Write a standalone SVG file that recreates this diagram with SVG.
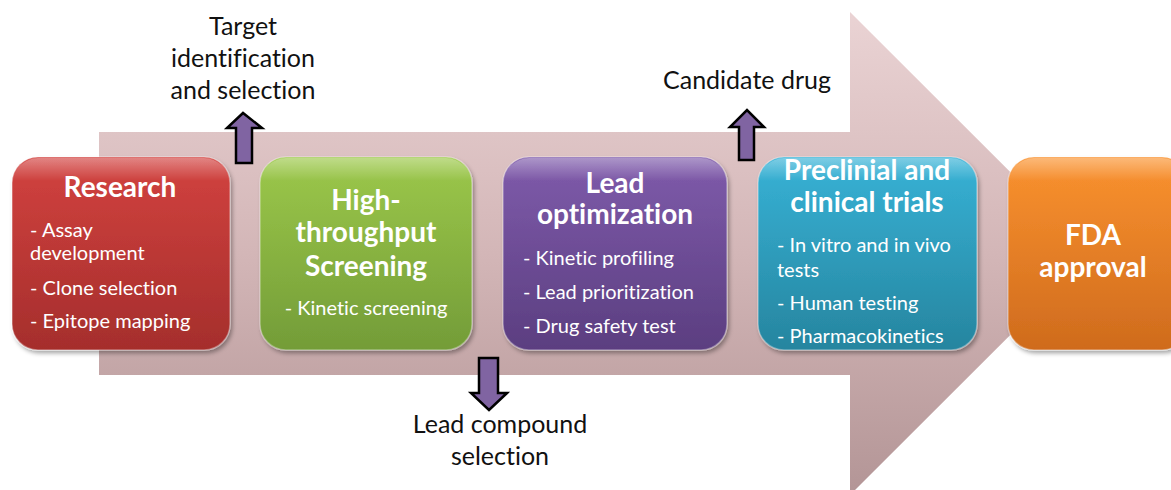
<svg xmlns="http://www.w3.org/2000/svg" width="1171" height="490" viewBox="0 0 1171 490">
<defs>
<linearGradient id="gArrow" x1="0" y1="0" x2="0" y2="1"><stop offset="0" stop-color="#ead3d4"/><stop offset="0.5" stop-color="#d3b6b7"/><stop offset="1" stop-color="#b39596"/></linearGradient>
<linearGradient id="gRed" x1="0" y1="0" x2="0" y2="1"><stop offset="0" stop-color="#d2423f"/><stop offset="1" stop-color="#a52e2c"/></linearGradient>
<linearGradient id="gGreen" x1="0" y1="0" x2="0" y2="1"><stop offset="0" stop-color="#9cc84a"/><stop offset="1" stop-color="#739c38"/></linearGradient>
<linearGradient id="gPurple" x1="0" y1="0" x2="0" y2="1"><stop offset="0" stop-color="#7f5bab"/><stop offset="1" stop-color="#5b3e80"/></linearGradient>
<linearGradient id="gBlue" x1="0" y1="0" x2="0" y2="1"><stop offset="0" stop-color="#37b2d6"/><stop offset="1" stop-color="#26859f"/></linearGradient>
<linearGradient id="gOrange" x1="0" y1="0" x2="0" y2="1"><stop offset="0" stop-color="#fa922f"/><stop offset="1" stop-color="#cf6b1d"/></linearGradient>
<linearGradient id="gGloss" x1="0" y1="0" x2="0" y2="1"><stop offset="0" stop-color="#fff" stop-opacity="0.35"/><stop offset="0.12" stop-color="#fff" stop-opacity="0"/></linearGradient>
<filter id="sh" x="-10%" y="-10%" width="125%" height="125%"><feDropShadow dx="2" dy="3" stdDeviation="2" flood-color="#000" flood-opacity="0.35"/></filter>
</defs>
<style>
text{font-variant-ligatures:none;font-feature-settings:"liga" 0,"clig" 0,"dlig" 0}
.box{stroke:#ffffff;stroke-opacity:0.35;stroke-width:1.5;filter:url(#sh)}
.gloss{fill:url(#gGloss)}
.t{font-family:Lato,"Liberation Sans",sans-serif;fill:#fff;font-weight:bold;font-size:28px;text-anchor:middle}
.b{font-family:Lato,"Liberation Sans",sans-serif;fill:#fff;font-size:20px}
.l{font-family:Lato,"Liberation Sans",sans-serif;fill:#111;font-size:25px;text-anchor:middle}
.arr{fill:#8064a2;stroke:#000;stroke-width:2.5;stroke-linejoin:miter}
</style>
<g id="big-arrow">
<path d="M99,132 H850 V12 L1092,253.5 L850,495 V375 H99 Z" fill="url(#gArrow)"/>
</g>
<g id="connectors">
<path class="arr" d="M236,163 V128 H227 L243,113 L262,128 H252 V163 Z"/>
<path class="arr" d="M739,160 V127 H730 L747,110 L764,127 H754 V160 Z"/>
<path class="arr" d="M479,358 H498 V393 H507 L489,410 L471,393 H479 Z"/>
</g>
<g id="label-target">
<text class="l" x="243" y="35">Target</text>
<text class="l" x="243" y="67">identification</text>
<text class="l" x="243" y="99">and selection</text>
</g>
<g id="label-candidate">
<text class="l" x="747" y="89">Candidate drug</text>
</g>
<g id="label-lead">
<text class="l" x="500" y="433">Lead compound</text>
<text class="l" x="500" y="465">selection</text>
</g>
<g id="research">
<rect class="box" x="12" y="157" width="218" height="193" rx="26" fill="url(#gRed)"/>
<rect class="gloss" x="13" y="158" width="216" height="191" rx="25"/>
<text class="t" x="120" y="197">Research</text>
<text class="b" x="30" y="237">- Assay</text>
<text class="b" x="30" y="260">development</text>
<text class="b" x="30" y="295">- Clone selection</text>
<text class="b" x="30" y="328">- Epitope mapping</text>
</g>
<g id="hts">
<rect class="box" x="260" y="157" width="212" height="193" rx="26" fill="url(#gGreen)"/>
<rect class="gloss" x="261" y="158" width="210" height="191" rx="25"/>
<text class="t" x="366" y="210">High-</text>
<text class="t" x="366" y="242">throughput</text>
<text class="t" x="366" y="276">Screening</text>
<text class="b" x="366" y="315" text-anchor="middle">- Kinetic screening</text>
</g>
<g id="lead">
<rect class="box" x="503" y="157" width="224" height="193" rx="26" fill="url(#gPurple)"/>
<rect class="gloss" x="504" y="158" width="222" height="191" rx="25"/>
<text class="t" x="615" y="193">Lead</text>
<text class="t" x="615" y="224">optimization</text>
<text class="b" x="523" y="265">- Kinetic profiling</text>
<text class="b" x="523" y="299">- Lead prioritization</text>
<text class="b" x="523" y="333">- Drug safety test</text>
</g>
<g id="preclinical">
<rect class="box" x="758" y="157" width="219" height="193" rx="26" fill="url(#gBlue)"/>
<rect class="gloss" x="759" y="158" width="217" height="191" rx="25"/>
<text class="t" x="867" y="180">Preclinial and</text>
<text class="t" x="867" y="212">clinical trials</text>
<text class="b" x="777" y="252">- In vitro and in vivo</text>
<text class="b" x="777" y="277">tests</text>
<text class="b" x="777" y="310">- Human testing</text>
<text class="b" x="777" y="343">- Pharmacokinetics</text>
</g>
<g id="fda">
<rect class="box" x="1008" y="157" width="180" height="193" rx="26" fill="url(#gOrange)"/>
<rect class="gloss" x="1009" y="158" width="178" height="191" rx="25"/>
<text class="t" x="1093" y="245">FDA</text>
<text class="t" x="1093" y="277">approval</text>
</g>
</svg>
